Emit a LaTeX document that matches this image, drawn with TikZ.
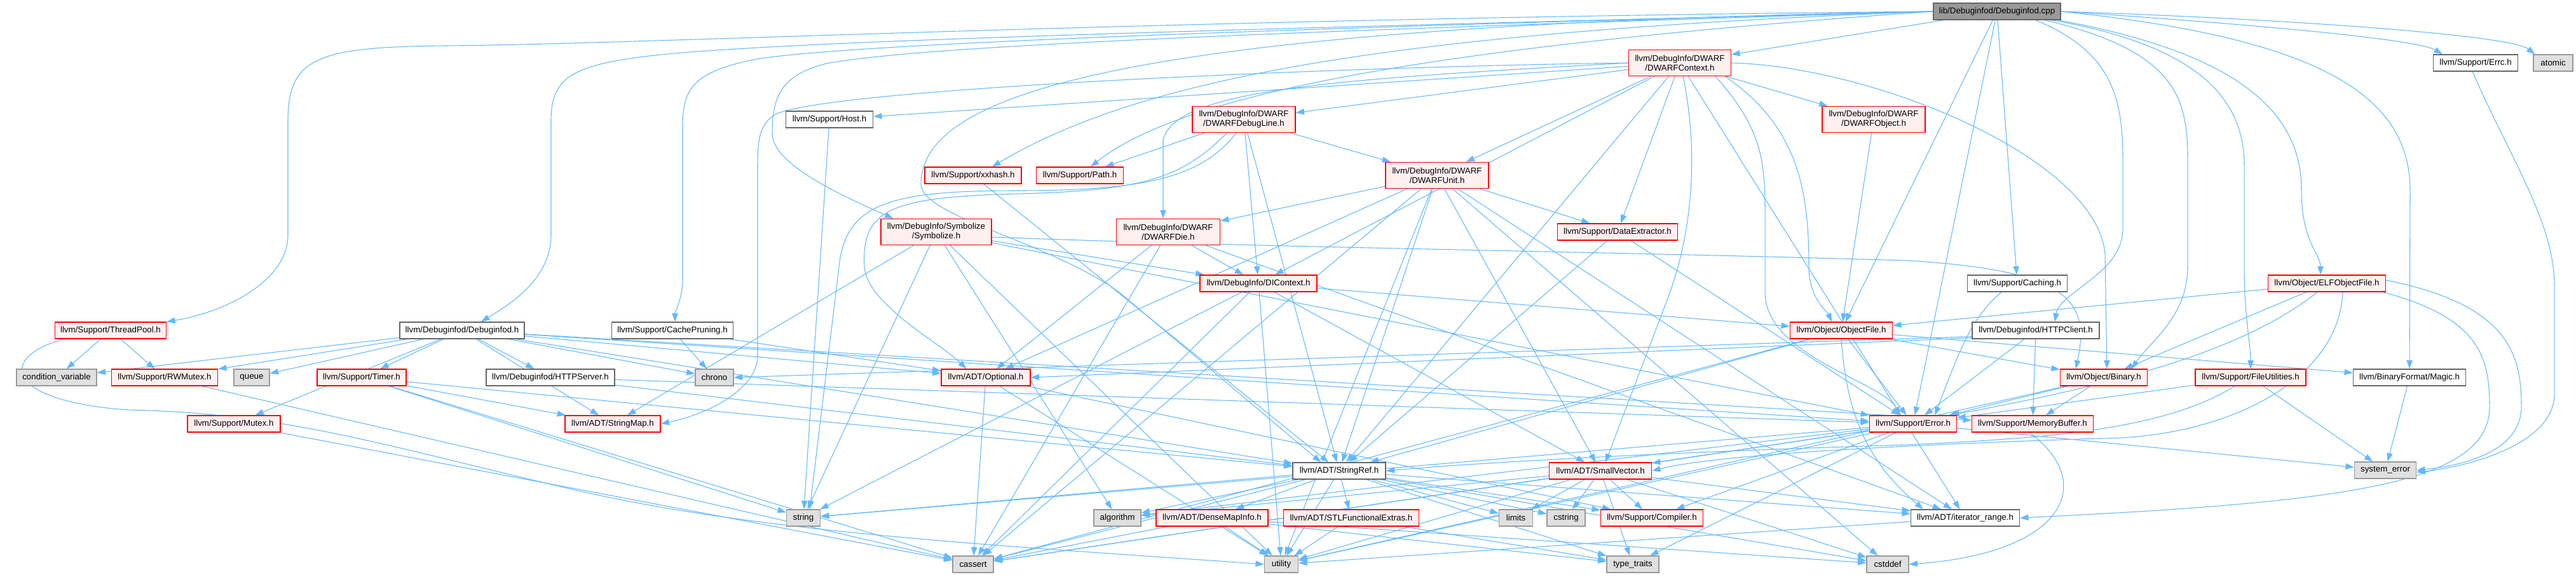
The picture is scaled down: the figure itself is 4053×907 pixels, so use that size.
\documentclass[tikz,border=0pt]{standalone}
\usepackage{fontspec}
\setmainfont{Liberation Sans}
\usetikzlibrary{arrows.meta,calc}
\pgfdeclarelayer{bg}
\pgfsetlayers{bg,main}
\definecolor{edgec}{HTML}{63B8FF}
\definecolor{redb}{HTML}{FF0000}
\definecolor{redf}{HTML}{FFF0F0}
\definecolor{grayb}{HTML}{666666}
\definecolor{lgrayb}{HTML}{999999}
\definecolor{grayf}{HTML}{E0E0E0}
\definecolor{rootf}{HTML}{999999}
\begin{document}
\begin{tikzpicture}[x=0.75pt,y=-0.75pt,
 nd/.style={draw, line width=1pt, inner sep=0pt, minimum height=19.5pt, font=\fontsize{10}{11.25}\selectfont, align=center},
 rn/.style={nd, draw=redb, fill=redf},
 wn/.style={nd, draw=grayb, fill=white},
 gn/.style={nd, draw=lgrayb, fill=grayf},
 tn/.style={nd, draw=grayb, fill=rootf},
 two/.style={minimum height=30.75pt},
 bw/.style={minimum width=#1*0.75pt},
 e/.style={draw=edgec, line width=0.8pt, -{Triangle[length=10pt,width=7pt]}},
]
\useasboundingbox (0,0) rectangle (4053,907);
% nodes
\node[tn,bw=200] (root) at (3142,18) {lib/Debuginfod/Debuginfod.cpp};
\node[rn,two,bw=161] (dwctx) at (2643,99) {llvm/DebugInfo/DWARF\\/DWARFContext.h};
\node[wn,bw=133] (errc) at (3895,99) {llvm/Support/Errc.h};
\node[gn,bw=62] (atomic) at (4017,99) {atomic};
\node[wn,bw=137] (host) at (1305,188) {llvm/Support/Host.h};
\node[rn,two,bw=162] (dline) at (1957,188) {llvm/DebugInfo/DWARF\\/DWARFDebugLine.h};
\node[rn,two,bw=162] (dobj) at (2948,188) {llvm/DebugInfo/DWARF\\/DWARFObject.h};
\node[rn,bw=152] (xxh) at (1531,276) {llvm/Support/xxhash.h};
\node[rn,bw=137] (path) at (1699,276) {llvm/Support/Path.h};
\node[rn,two,bw=162] (dunit) at (2261,276) {llvm/DebugInfo/DWARF\\/DWARFUnit.h};
\node[rn,two,bw=174] (symb) at (1473,365) {llvm/DebugInfo/Symbolize\\/Symbolize.h};
\node[rn,two,bw=163] (ddie) at (1838,365) {llvm/DebugInfo/DWARF\\/DWARFDie.h};
\node[rn,bw=189] (dext) at (2545,365) {llvm/Support/DataExtractor.h};
\node[rn,bw=184] (dictx) at (1980,446) {llvm/DebugInfo/DIContext.h};
\node[wn,bw=157] (caching) at (3174,446) {llvm/Support/Caching.h};
\node[rn,bw=185] (elf) at (3661,446) {llvm/Object/ELFObjectFile.h};
\node[rn,bw=175] (tpool) at (174,520) {llvm/Support/ThreadPool.h};
\node[wn,bw=196] (dbgh) at (727,520) {llvm/Debuginfod/Debuginfod.h};
\node[wn,bw=191] (cprune) at (1058,520) {llvm/Support/CachePruning.h};
\node[rn,bw=161] (objf) at (2897,520) {llvm/Object/ObjectFile.h};
\node[wn,bw=200] (httpc) at (3203,520) {llvm/Debuginfod/HTTPClient.h};
\node[gn,bw=126] (condvar) at (89,594) {condition\_variable};
\node[rn,bw=167] (rwmutex) at (259,594) {llvm/Support/RWMutex.h};
\node[gn,bw=56] (queue) at (396,594) {queue};
\node[rn,bw=140] (timer) at (569,594) {llvm/Support/Timer.h};
\node[wn,bw=202] (https) at (866,594) {llvm/Debuginfod/HTTPServer.h};
\node[gn,bw=60] (chrono) at (1124,594) {chrono};
\node[rn,bw=140] (optional) at (1551,594) {llvm/ADT/Optional.h};
\node[rn,bw=137] (binary) at (3310,594) {llvm/Object/Binary.h};
\node[rn,bw=174] (fileu) at (3541,594) {llvm/Support/FileUtilities.h};
\node[wn,bw=177] (magic) at (3791,594) {llvm/BinaryFormat/Magic.h};
\node[rn,bw=146] (mutex) at (368,667) {llvm/Support/Mutex.h};
\node[rn,bw=150] (smap) at (964,667) {llvm/ADT/StringMap.h};
\node[rn,bw=137] (error) at (3010,667) {llvm/Support/Error.h};
\node[rn,bw=191] (membuf) at (3198,667) {llvm/Support/MemoryBuffer.h};
\node[wn,bw=146] (sref) at (2107,741) {llvm/ADT/StringRef.h};
\node[rn,bw=161] (svec) at (2518,741) {llvm/ADT/SmallVector.h};
\node[gn,bw=97] (syserr) at (3753,740) {system\_error};
\node[gn,bw=53] (str) at (1264,815) {string};
\node[gn,bw=74] (algo) at (1758,815) {algorithm};
\node[rn,bw=176] (dmi) at (1907,815) {llvm/ADT/DenseMapInfo.h};
\node[rn,bw=213] (stlfe) at (2126,815) {llvm/ADT/STLFunctionalExtras.h};
\node[gn,bw=53] (limits) at (2385,815) {limits};
\node[gn,bw=60] (cstring) at (2464,815) {cstring};
\node[rn,bw=161] (compiler) at (2599,815) {llvm/Support/Compiler.h};
\node[wn,bw=171] (itrange) at (3092,815) {llvm/ADT/iterator\_range.h};
\node[gn,bw=64] (cassert) at (1531,888) {cassert};
\node[gn,bw=53] (utility) at (2016,888) {utility};
\node[gn,bw=82] (typetr) at (2569,888) {type\_traits};
\node[gn,bw=66] (cstddef) at (2970,888) {cstddef};
% edges
\begin{pgfonlayer}{bg}
\foreach \a/\b in {root/dwctx, root/caching, root/error, root/objf,
 dwctx/host, dwctx/dline, dwctx/dobj, dwctx/dunit, dwctx/dext, dwctx/dictx, dwctx/sref, dwctx/itrange,
 dline/path, dline/dunit, dline/dictx, dline/sref,
 dobj/objf,
 dunit/ddie, dunit/dext, dunit/optional, dunit/cassert, dunit/sref, dunit/svec, dunit/itrange, dunit/cstddef, dunit/utility,
 ddie/optional, ddie/cassert, ddie/dictx, ddie/itrange,
 symb/dictx, symb/error, symb/smap, symb/str, symb/algo, symb/utility,
 xxh/sref, host/str, dext/sref, dext/error,
 dictx/objf, dictx/svec, dictx/cassert, dictx/str, dictx/utility,
 elf/objf, elf/binary, fileu/error, fileu/syserr, magic/syserr,
 binary/error, binary/membuf, binary/utility, httpc/error, httpc/membuf,
 objf/binary, objf/magic, objf/sref, objf/error, objf/cassert,
 error/svec, error/compiler, error/algo, error/cassert, error/str, error/syserr, error/typetr, error/utility,
 optional/cassert, optional/utility, optional/compiler,
 sref/dmi, sref/stlfe, sref/itrange, sref/compiler, sref/algo, sref/cassert, sref/cstddef, sref/cstring, sref/limits, sref/str, sref/typetr, sref/utility,
 svec/itrange, svec/compiler, svec/algo, svec/cassert, svec/cstddef, svec/cstring, svec/limits, svec/typetr, svec/utility,
 dmi/cassert, dmi/cstddef, dmi/typetr, dmi/utility,
 stlfe/typetr, stlfe/utility, itrange/utility,
 timer/smap, timer/sref, timer/cassert, timer/str,
 mutex/cassert, rwmutex/cassert, tpool/condvar, tpool/rwmutex,
 dbgh/https, dbgh/optional, dbgh/smap, dbgh/sref, dbgh/error, dbgh/membuf, dbgh/mutex, dbgh/rwmutex, dbgh/timer, dbgh/chrono, dbgh/condvar, dbgh/queue,
 https/sref, https/error, cprune/chrono, cprune/optional}
 {\draw[e] (\a) -- (\b);}
% custom routes from root
\draw[e] (root.west) .. controls (1800,30) and (1000,70) .. (700,72) .. controls (500,74) and (453,90) .. (453,190) -- (453,370) .. controls (453,440) and (360,490) .. (tpool.north east);
\draw[e] (root.west) .. controls (2000,45) and (1300,62) .. (1050,85) .. controls (900,100) and (867,120) .. (867,190) -- (867,370) .. controls (867,440) and (800,480) .. ($(dbgh.north)+(30,0)$);
\draw[e] (root.west) .. controls (2000,45) and (1300,70) .. (1180,95) .. controls (1090,115) and (1074,140) .. (1074,200) -- (1074,440) .. controls (1074,470) and (1062,490) .. ($(cprune.north)+(4,0)$);
\draw[e] (root.west) .. controls (2000,50) and (1450,72) .. (1300,100) .. controls (1230,118) and (1215,150) .. (1215,210) .. controls (1215,260) and (1330,310) .. ($(symb.north west)+(20,0)$);
\draw[e] (root.west) .. controls (2200,50) and (1800,120) .. ($(xxh.north)+(30,0)$);
\draw[e] (root.west) .. controls (2300,70) and (1870,140) .. ($(path.north)+(17,0)$);
\draw[e] (root.west) .. controls (1800,40) and (1449,140) .. (1449,290) .. controls (1449,340) and (1650,380) .. (1761,460) -- ($(sref.north west)+(45,0)$);
\draw[e] ($(root.south east)+(-15,0)$) .. controls (3450,70) and (3531,150) .. (3531,260) -- (3531,420) .. controls (3531,500) and (3541,540) .. (fileu.north);
\draw[e] (root.east) .. controls (3650,60) and (3792,150) .. (3792,300) -- (magic.north);
\draw[e] ($(root.south east)+(-5,0)$) .. controls (3560,90) and (3621,200) .. (3621,300) .. controls (3621,380) and (3651,400) .. ($(elf.north)+(-10,0)$);
\draw[e] ($(root.south east)+(-40,0)$) .. controls (3320,80) and (3340,150) .. (3340,250) -- (3340,360) .. controls (3340,430) and (3240,460) .. ($(httpc.north)+(30,0)$);
\draw[e] ($(root.south east)+(-25,0)$) .. controls (3420,80) and (3442,150) .. (3442,250) -- (3442,420) .. controls (3442,500) and (3380,540) .. ($(binary.north east)+(-25,0)$);
\draw[e] (root.east) .. controls (3500,35) and (3800,60) .. ($(errc.north west)+(15,0)$);
\draw[e] (root.east) .. controls (3600,30) and (3950,55) .. ($(atomic.north west)+(3,0)$);
% custom routes from DWARFContext
\draw[e] (dwctx.west) .. controls (2100,105) and (1300,140) .. (1220,180) .. controls (1195,195) and (1192,220) .. (1192,260) -- (1192,560) .. controls (1192,610) and (1120,650) .. (smap.east);
\draw[e] (dwctx.west) .. controls (2100,125) and (1850,140) .. (1830,220) -- ($(ddie.north)+(-8,0)$);
\draw[e] (dwctx.east) .. controls (2950,105) and (3300,250) .. (3312,400) -- ($(binary.north)+(5,0)$);
\draw[e] ($(dwctx.south east)+(-25,0)$) .. controls (2770,200) and (2777,250) .. (2777,330) -- (2777,460) .. controls (2777,560) and (2960,600) .. ($(error.north)+(-20,0)$);
\draw[e] ($(dwctx.south east)+(-10,0)$) .. controls (2830,200) and (2846,300) .. (2846,420) .. controls (2846,470) and (2875,490) .. ($(objf.north)+(-15,0)$);
\draw[e] ($(dwctx.south)+(5,0)$) .. controls (2675,250) and (2660,380) .. (2620,480) -- ($(svec.north)+(8,0)$);
% others
\draw[e] ($(dline.south west)+(55,0)$) .. controls (1860,280) and (1800,300) .. (1600,305) .. controls (1400,310) and (1355,330) .. (1360,420) .. controls (1365,480) and (1480,540) .. ($(optional.north west)+(40,0)$);
\draw[e] ($(dline.south west)+(70,0)$) .. controls (1890,280) and (1800,300) .. (1600,300) .. controls (1400,300) and (1330,320) .. (1320,420) -- ($(str.north)+(10,0)$);
\draw[e] ($(symb.east)+(0,8)$) .. controls (2000,390) and (2500,395) .. (3000,410) .. controls (3250,425) and (3290,470) .. ($(binary.north west)+(25,0)$);
\draw[e] ($(caching.south)+(-25,0)$) .. controls (3100,500) and (3080,560) .. ($(error.north east)+(-35,0)$);
\draw[e] ($(elf.south)+(-15,0)$) .. controls (3520,560) and (3300,610) .. ($(error.north east)+(-10,0)$);
\draw[e] ($(elf.south)+(25,0)$) .. controls (3680,600) and (3500,690) .. (3300,690) .. controls (3000,700) and (2700,715) .. (svec.east);
\draw[e] ($(elf.south east)+(-5,0)$) .. controls (3900,500) and (3917,560) .. (3917,640) .. controls (3917,760) and (3700,790) .. (itrange.east);
\draw[e] ($(elf.east)+(0,-5)$) .. controls (3950,480) and (3967,560) .. (3967,640) .. controls (3967,700) and (3900,730) .. (syserr.east);
\draw[e] ($(errc.south)+(-5,0)$) .. controls (3950,250) and (4019,350) .. (4019,450) -- (4019,620) .. controls (4019,700) and (3880,735) .. ($(syserr.east)+(0,3)$);
\draw[e] ($(fileu.south)+(-25,0)$) .. controls (3400,680) and (3200,690) .. (3000,700) .. controls (2600,712) and (2300,730) .. (sref.east);
\draw[e] ($(httpc.south west)+(0,-4)$) -- (chrono.east);
\draw[e] ($(httpc.south west)+(0,-2)$) -- (optional.east);
\draw[e] ($(membuf.south)+(-5,0)$) .. controls (3300,760) and (3250,870) .. (cstddef.east);
\draw[e] (objf.south) .. controls (2905,640) and (2930,720) .. ($(itrange.north west)+(20,0)$);
\draw[e] ($(tpool.south west)+(15,0)$) .. controls (0,560) and (0,630) .. (200,645) .. controls (450,650) and (600,700) .. (900,770) .. controls (1200,840) and (1600,860) .. (utility.west);
\end{pgfonlayer}
\end{tikzpicture}
\end{document}
